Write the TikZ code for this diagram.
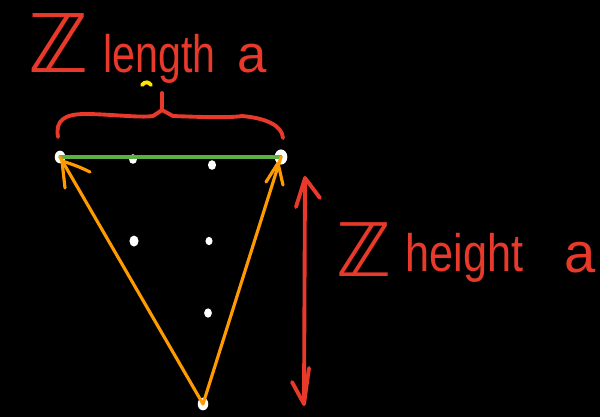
\documentclass[tikz,border=0pt]{standalone}
\usepackage{fontspec}
\setmainfont{Liberation Sans}
\newfontfamily\symfont{DejaVu Sans}
\definecolor{inkred}{HTML}{E8392B}
\definecolor{inkorange}{HTML}{FF9A00}
\definecolor{inkgreen}{HTML}{5DB043}
\definecolor{inkyellow}{HTML}{FFE600}
\tikzset{
  px/.style={x=0.01cm,y=-0.01cm},
  redink/.style={draw=inkred,line width=1.1pt,line cap=round,line join=round},
  orangeink/.style={draw=inkorange,line width=0.9pt,line cap=round,line join=round},
  greenink/.style={draw=inkgreen,line width=0.9pt,line cap=round},
  dot/.style={ellipse,fill=white,inner sep=0pt,minimum width=#1,minimum height=#1*1.2},
  redtext/.style={text=inkred,inner sep=0pt,anchor=base west},
}
\usetikzlibrary{shapes.geometric}
\begin{document}
\begin{tikzpicture}[px]
\fill[black] (0,0) rectangle (600,417);
\useasboundingbox (0,0) rectangle (600,417);
% dots / vertices
\node[dot=3pt] (A) at (60,157) {};
\node[dot=3.6pt] (B) at (281,157) {};
\node[dot=3pt] (C) at (203,404) {};
\node[dot=2.3pt] (d1) at (133,159) {};
\node[dot=2.3pt] (d2) at (212,165) {};
\node[dot=2.6pt] (d3) at (134,241) {};
\node[dot=2pt] (d4) at (209,241) {};
\node[dot=2.2pt] (d5) at (208,313) {};
% green side
\draw[greenink] (A.center) -- (B.center);
% orange arrows
\draw[orangeink] (C.center) -- (A.center);
\draw[orangeink] (65,188) -- (62,161) .. controls (75,165) and (82,168) .. (90,172);
\draw[orangeink] (C.center) -- (B.center);
\draw[orangeink] (266,182) -- (278,163) -- (283,185);
% brace
\coordinate (bl) at (58,137);
\coordinate (br) at (283,138);
\coordinate (bm) at (162,110);
\coordinate (bt) at (162,93);
\draw[redink] (bl) .. controls (55,120) and (65,114) .. (85,114)
  .. controls (110,114) and (140,118) .. (153,116) -- (bm)
  -- (173,116) .. controls (200,117) and (230,118) .. (242,116)
  .. controls (265,118) and (282,125) .. (br);
\draw[redink] (bm) -- (bt);
% yellow mark
\draw[draw=inkyellow,line width=1.1pt,line cap=round] (142,85) .. controls (145,81) and (149,82) .. (151,85);
% vertical double arrow
\coordinate (vt) at (305,178);
\coordinate (vb) at (304,404);
\draw[redink] (vt) -- (vb);
\draw[redink] (296,207) -- (vt) -- (320,198);
\draw[redink] (292,382) -- (vb) -- (309,368);
% labels
\node[redtext] (z1) at (28,72) {\symfont\fontsize{23pt}{23pt}\selectfont ℤ};
\node[redtext] (t1) at (103,72) {\scalebox{0.78}[1]{\fontsize{15pt}{15pt}\selectfont length}};
\node[redtext] (a1) at (237,72) {\fontsize{15pt}{15pt}\selectfont a};
\node[redtext] (z2) at (336,276) {\symfont\fontsize{21pt}{21pt}\selectfont ℤ};
\node[redtext] (t2) at (405,271) {\scalebox{0.82}[1]{\fontsize{15pt}{15pt}\selectfont height}};
\node[redtext] (a2) at (564,272) {\fontsize{16pt}{16pt}\selectfont a};
\end{tikzpicture}
\end{document}
